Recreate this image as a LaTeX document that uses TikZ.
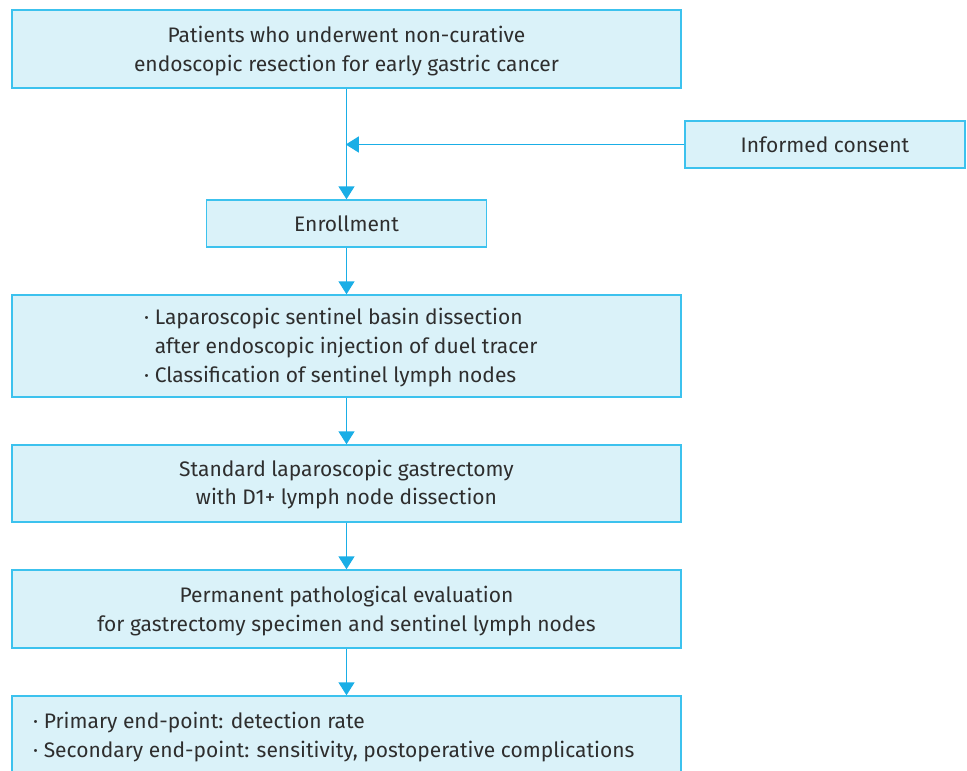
\documentclass[tikz,border=0pt]{standalone}
\usepackage{fontspec}
\setmainfont{Fira Sans}
\usetikzlibrary{arrows.meta}
\definecolor{boxfill}{HTML}{DAF2F9}
\definecolor{boxline}{HTML}{3CC2EE}
\definecolor{arr}{HTML}{1AAEE6}
\definecolor{txt}{HTML}{2E2E2E}
\tikzset{
  box/.style={draw=boxline, fill=boxfill, line width=1.4pt, inner sep=0pt},
  lbl/.style={text=txt, font=\fontsize{21}{28.5}\selectfont, inner sep=0pt, align=center},
  lblm/.style={lbl, yshift=-2pt},
  lbll/.style={text=txt, font=\fontsize{21}{29}\selectfont, inner sep=0pt, align=left, anchor=west},
  flow/.style={draw=arr, line width=1.4pt, -{Triangle[width=16pt,length=13pt]}},
}
\begin{document}
\begin{tikzpicture}[x=1pt,y=-1pt]
\useasboundingbox (0,0) rectangle (967,771);
\begin{scope}
\clip (0,0) rectangle (967,771);
% boxes
\node[box, minimum width=669pt, minimum height=78pt] (b1) at (346.5,49) {};
\node[box, minimum width=280pt, minimum height=47pt] (ic) at (825,144.5) {};
\node[box, minimum width=280pt, minimum height=47pt] (b2) at (346.5,223.5) {};
\node[box, minimum width=669pt, minimum height=102pt] (b3) at (346.5,346) {};
\node[box, minimum width=669pt, minimum height=77pt] (b4) at (346.5,483.5) {};
\node[box, minimum width=669pt, minimum height=78pt] (b5) at (346.5,609) {};
\node[box, minimum width=669pt, minimum height=100pt] (b6) at (346.5,746) {};
% texts
\node[lblm] (t1) at (b1) {Patients who underwent non-curative\\endoscopic resection for early gastric cancer};
\node[lbl] (tic) at (ic) {Informed consent};
\node[lbl] (t2) at (b2) {Enrollment};
\node[lbll] (t3) at (144,348) {· Laparoscopic sentinel basin dissection\\\phantom{· }after endoscopic injection of duel tracer\\· Classification of sentinel lymph nodes};
\node[lblm, yshift=1pt] (t4) at (b4) {Standard laparoscopic gastrectomy\\with D1+ lymph node dissection};
\node[lblm] (t5) at (b5) {Permanent pathological evaluation\\for gastrectomy specimen and sentinel lymph nodes};
\node[lbll] (t6) at (33,737) {· Primary end-point: detection rate\\· Secondary end-point: sensitivity, postoperative complications};
% connectors
\coordinate (j) at (b1.south |- ic.west);
\draw[flow] (b1.south) -- (b1.south |- b2.north);
\draw[flow, shorten >=-0.7pt] (ic.west) -- (j);
\draw[flow] (b2.south) -- (b2.south |- b3.north);
\draw[flow] (b3.south) -- (b4.north);
\draw[flow] (b4.south) -- (b5.north);
\draw[flow] (b5.south) -- (b6.north);
\end{scope}
\end{tikzpicture}
\end{document}
